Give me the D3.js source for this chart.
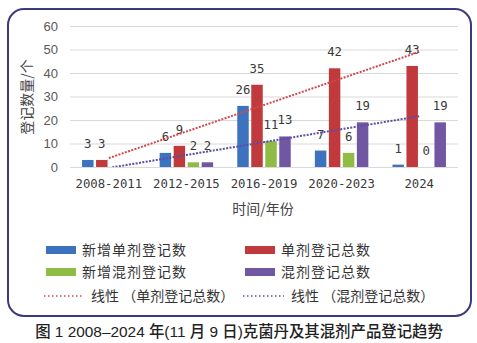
<!DOCTYPE html>
<html><head><meta charset="utf-8">
<script src="https://cdn.jsdelivr.net/npm/d3@7"></script>
<style>body{margin:0;background:#fff}svg{display:block}</style>
</head><body>
<svg id="c" width="477" height="343"></svg>
<script>
const categories = ["2008-2011","2012-2015","2016-2019","2020-2023","2024"];
const newSingle   = [3, 6, 26, 7, 1];
const totalSingle = [3, 9, 35, 42, 43];
const newMix      = [null, 2, 11, 6, 0];
const totalMix    = [null, 2, 13, 19, 19];
const seriesNames = ["新增单剂登记数","单剂登记总数","新增混剂登记数","混剂登记总数"];
const trendNames  = ["线性 （单剂登记总数）","线性 （混剂登记总数）"];
const trendSingle = [3.8, 49.0];   // linear trend at first & last category
const trendMix    = [-0.4, 21.6];
const yTicks = [0,10,20,30,40,50,60];
const yTitle = "登记数量/个", xTitle = "时间/年份";
const caption = "图 1 2008–2024 年(11 月 9 日)克菌丹及其混剂产品登记趋势";

const colors = ["#3d72be","#c0393c","#8fbc45","#7156a2"];
const trendColors = ["#d04a4e","#5a4ea2"];
const series = [newSingle,totalSingle,newMix,totalMix];

const svg = d3.select("#c");
const sans = "'Liberation Sans', Arial, sans-serif";
const mono = "'DejaVu Sans Mono',monospace";
const cjk = "'Noto Sans CJK SC', sans-serif";

// frame
svg.append("rect").attr("x",8).attr("y",9).attr("width",463).attr("height",307)
  .attr("rx",16).attr("ry",16).attr("fill","#fff").attr("stroke","#3b3a7e").attr("stroke-width",2);

const x0 = d3.scaleBand().domain(categories).range([70,458]).padding(0);
const y = d3.scaleLinear().domain([0,60]).range([167,26]);
const bw = x0.bandwidth();
const x1 = d3.scaleBand().domain(d3.range(4)).range([bw/2-28, bw/2+28]).paddingInner(0.18).paddingOuter(0.09);

// grid
svg.append("g").selectAll("line").data(yTicks).join("line")
  .attr("x1",70).attr("x2",458).attr("y1",d=>y(d)+0.5).attr("y2",d=>y(d)+0.5)
  .attr("stroke","#d9d9d9").attr("stroke-width",1);

// y axis labels
const yAxis = svg.append("g").attr("transform","translate(70,0)")
  .call(d3.axisLeft(y).tickValues(yTicks).tickSize(0).tickPadding(12));
yAxis.select(".domain").remove();
yAxis.selectAll("text").attr("font-family",sans).attr("font-size",13).attr("fill","#595959");

// x axis labels
const xAxis = svg.append("g").attr("transform","translate(0,167)")
  .call(d3.axisBottom(x0).tickSize(0).tickPadding(12));
xAxis.select(".domain").remove();
xAxis.selectAll("text").attr("font-family",mono).attr("font-size",12.3).attr("fill","#3a3a3a");

// bars
series.forEach((vals,si)=>{
  const g = svg.append("g");
  const d = categories.map((c,i)=>({c,v:vals[i]})).filter(o=>o.v!==null);
  g.selectAll("rect").data(d.filter(o=>o.v>0)).join("rect")
    .attr("x",o=>x0(o.c)+x1(si)).attr("width",x1.bandwidth())
    .attr("y",o=>y(o.v)).attr("height",o=>y(0)-y(o.v)).attr("fill",colors[si]);
  g.selectAll("text").data(d).join("text")
    .attr("x",o=>x0(o.c)+x1(si)+x1.bandwidth()/2).attr("y",o=>y(o.v)-12)
    .attr("text-anchor","middle").attr("font-family",mono).attr("font-size",12.3)
    .attr("fill","#3a3a3a").text(o=>o.v);
});

// trend lines
const cx = c=>x0(c)+bw/2;
svg.append("clipPath").attr("id","pc").append("rect").attr("x",70).attr("y",20).attr("width",388).attr("height",147);
[[trendSingle,0],[trendMix,1]].forEach(([t,k])=>{
  svg.append("line").attr("clip-path","url(#pc)")
    .attr("x1",cx(categories[0])).attr("y1",y(t[0]))
    .attr("x2",cx(categories[categories.length-1])).attr("y2",y(t[1]))
    .attr("stroke",trendColors[k]).attr("stroke-width",2).attr("stroke-dasharray","2,1.4");
});

// axis titles
svg.append("text").attr("transform","translate(32,97) rotate(-90)").attr("text-anchor","middle")
  .attr("font-family",cjk).attr("font-size",14).attr("fill","#444").text(yTitle);
svg.append("text").attr("x",263).attr("y",214).attr("text-anchor","middle")
  .attr("font-family",cjk).attr("font-size",14).attr("fill","#444").text(xTitle);

// legend
const legPos = [[46,250],[245,250],[46,272],[245,272]];
seriesNames.forEach((n,i)=>{
  const [lx,ly] = legPos[i];
  svg.append("rect").attr("x",lx).attr("y",ly-4).attr("width",30).attr("height",8).attr("fill",colors[i]);
  svg.append("text").attr("x",lx+36).attr("y",ly+5).attr("font-family",cjk).attr("font-size",14)
    .attr("letter-spacing",1).attr("fill","#333").text(n);
});
const trendLeg = [[44,84,91],[243,284,291]];
trendNames.forEach((n,i)=>{
  const [a,b,tx] = trendLeg[i];
  svg.append("line").attr("x1",a).attr("x2",b).attr("y1",296).attr("y2",296)
    .attr("stroke",trendColors[i]).attr("stroke-width",1.5).attr("stroke-dasharray","1.5,2.5");
  svg.append("text").attr("x",tx).attr("y",301).attr("font-family",cjk).attr("font-size",14)
    .attr("fill","#333").text(n);
});

// caption
svg.append("text").attr("x",239).attr("y",337).attr("text-anchor","middle")
  .attr("font-family","'Liberation Sans','Noto Sans CJK SC',sans-serif").attr("font-size",15.4)
  .attr("font-weight",500).attr("fill","#222").text(caption);
</script>
</body></html>
